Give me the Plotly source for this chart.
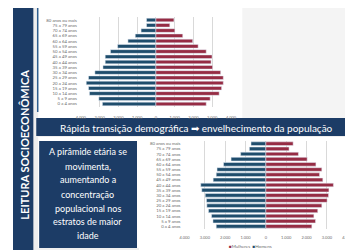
import plotly.graph_objects as go

W, H = 353, 250

faixas = ["0 a 4 anos", "5 a 9 anos", "10 a 14 anos", "15 a 19 anos", "20 a 24 anos",
          "25 a 29 anos", "30 a 34 anos", "35 a 39 anos", "40 a 44 anos", "45 a 49 anos",
          "50 a 54 anos", "55 a 59 anos", "60 a 64 anos", "65 a 69 anos", "70 a 74 anos",
          "75 a 79 anos", "80 anos ou mais"]

top_homens = [2850, 3040, 3540, 3590, 3710, 3590, 3250, 2820, 2700, 2700, 2420, 2040, 1490, 1100, 790, 500, 500]
top_mulheres = [2680, 2890, 3370, 3500, 3590, 3590, 3450, 3020, 2940, 2990, 2680, 2250, 1960, 1430, 1010, 740, 960]

bot_homens = [2440, 2600, 2670, 2820, 2900, 2920, 2980, 3150, 3200, 2590, 2440, 2400, 2080, 1710, 1240, 810, 730]
bot_mulheres = [2260, 2440, 2360, 2550, 2750, 3010, 3080, 3100, 3320, 2800, 2640, 2750, 2460, 2030, 1600, 1140, 1340]

tick_vals = [-4000, -3000, -2000, -1000, 0, 1000, 2000, 3000, 4000]
tick_text = ["4.000", "3.000", "2.000", "1.000", "0", "1.000", "2.000", "3.000", "4.000"]

titulo = "Rápida transição demográfica ➡ envelhecimento da população"
texto_caixa = ["A pirâmide etária se", "movimenta,", "aumentando a", "concentração",
               "populacional nos", "estratos de maior", "idade"]
lateral = "LEITURA SOCIOECONÔMICA"
legenda = ["Mulheres", "Homens"]

NAVY = "#1c3c66"
BLUE = "#1f4d6c"
RED = "#962c44"
GRID = "#d9d9d9"
TXT = "#6b6b6b"
FONT = "Lato"


def px(x):
    return x / W


def py(y):
    return 1 - y / H


fig = go.Figure()

fig.add_trace(go.Bar(y=faixas, x=[-v for v in top_homens], orientation="h", marker_color=BLUE,
                     xaxis="x", yaxis="y", showlegend=False, name=legenda[1]))
fig.add_trace(go.Bar(y=faixas, x=top_mulheres, orientation="h", marker_color=RED,
                     xaxis="x", yaxis="y", showlegend=False, name=legenda[0]))
fig.add_trace(go.Bar(y=faixas, x=[-v for v in bot_homens], orientation="h", marker_color=BLUE,
                     xaxis="x2", yaxis="y2", showlegend=False, name=legenda[1]))
fig.add_trace(go.Bar(y=faixas, x=bot_mulheres, orientation="h", marker_color=RED,
                     xaxis="x2", yaxis="y2", showlegend=False, name=legenda[0]))

shapes = []


def rect(x0, y0, x1, y1, color):
    shapes.append(dict(type="rect", xref="paper", yref="paper", x0=px(x0), x1=px(x1),
                       y0=py(y1), y1=py(y0), fillcolor=color, line_width=0, layer="below"))


# backgrounds
rect(0, 0, W, H, "#eeeeee")
rect(26, 0, 237, 110, "#ffffff")
rect(237, 0, 352, 110, "#f4f4f4")
rect(0, 0, 21, H, NAVY)
rect(24, 110, W, 128, NAVY)
rect(130, 129, W, H, "#ffffff")
rect(26, 129, 130, 240, "#ffffff")
rect(27, 133, 128, 240, NAVY)
shapes.append(dict(type="line", xref="paper", yref="paper", x0=px(25.5), x1=px(25.5),
                   y0=py(104), y1=py(0), line=dict(color="#2f5f8f", width=1.5), layer="below"))

annotations = []
annotations.append(dict(text=titulo, x=px(189), y=py(120), xref="paper", yref="paper",
                        showarrow=False, font=dict(color="white", size=10, family=FONT),
                        xanchor="center", yanchor="middle"))
annotations.append(dict(text="<b>" + lateral + "</b>", x=px(11), y=py(137), xref="paper", yref="paper",
                        showarrow=False, textangle=-90,
                        font=dict(color="white", size=11, family=FONT),
                        xanchor="center", yanchor="middle"))
line_y = [143.3, 158.3, 171.7, 186, 200, 213.3, 227.3]
for t, yy in zip(texto_caixa, line_y):
    annotations.append(dict(text=t, x=px(77), y=py(yy), xref="paper", yref="paper",
                            showarrow=False, font=dict(color="white", size=9, family=FONT),
                            xanchor="center", yanchor="middle"))
leg_txt = ('<span style="color:%s">■</span>%s  <span style="color:%s">■</span>%s'
           % (RED, legenda[0], BLUE, legenda[1]))
annotations.append(dict(text=leg_txt, x=px(221), y=py(238.5), xref="paper", yref="paper",
                        showarrow=False, font=dict(color=TXT, size=4.5, family=FONT),
                        xanchor="left", yanchor="middle"))

axis_common = dict(range=[-4000, 4000], tickvals=tick_vals, ticktext=tick_text, showgrid=True,
                   gridcolor=GRID, gridwidth=0.6, zeroline=False, showline=False, ticks="",
                   tickfont=dict(size=4, color=TXT, family=FONT), fixedrange=True)
yaxis_common = dict(type="category", range=[-0.5, 16.5], showgrid=False, zeroline=False,
                    showline=False, ticks="", tickfont=dict(size=4.3, color=TXT, family=FONT),
                    ticklabelstandoff=3)

fig.update_layout(
    width=W, height=H, margin=dict(l=0, r=0, t=0, b=0),
    paper_bgcolor="white", plot_bgcolor="rgba(0,0,0,0)",
    barmode="relative", bargap=0.3, showlegend=False,
    xaxis=dict(domain=[px(70), px(225)], anchor="y", ticklabelstandoff=7, **axis_common),
    yaxis=dict(domain=[py(98.6), py(9.4)], anchor="x", **yaxis_common),
    xaxis2=dict(domain=[px(177), px(345)], anchor="y2", ticklabelstandoff=5, **axis_common),
    yaxis2=dict(domain=[py(220.9), py(133.1)], anchor="x2", **yaxis_common),
    shapes=shapes, annotations=annotations,
)

fig.write_html("out.html")
